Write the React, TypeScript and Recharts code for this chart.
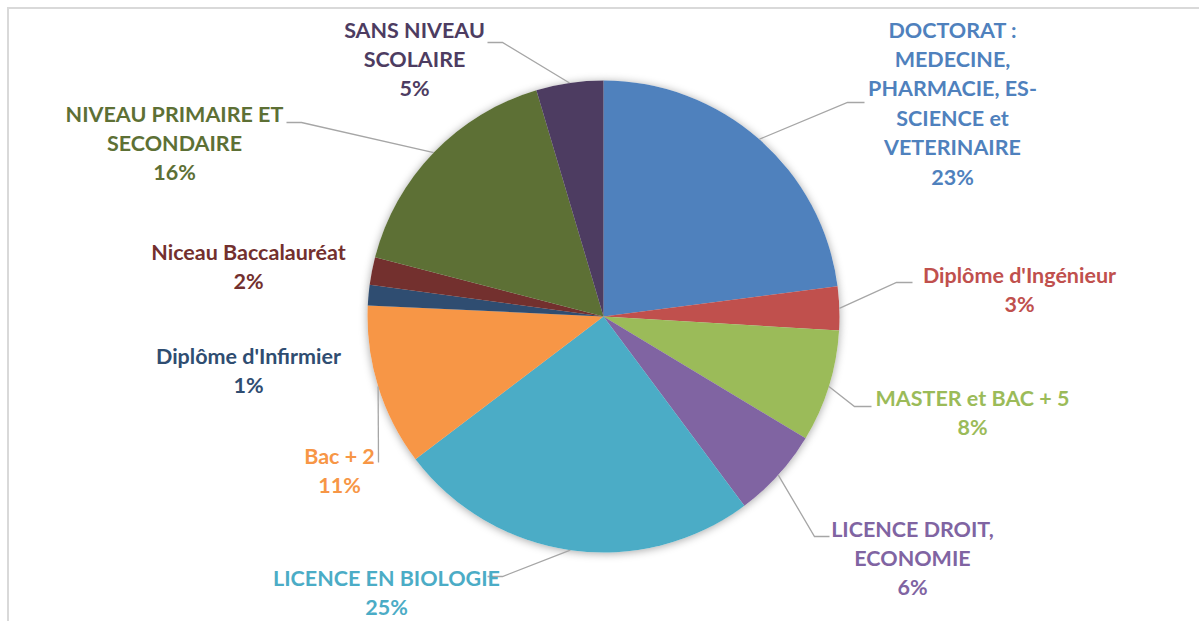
import React from "react";
import { PieChart, Pie, Cell } from "recharts";

// Categories (line breaks follow the wrapped labels in the reference)
const categories = [
  "DOCTORAT :\nMEDECINE,\nPHARMACIE, ES-\nSCIENCE et\nVETERINAIRE",
  "Diplôme d'Ingénieur",
  "MASTER et BAC + 5",
  "LICENCE DROIT,\nECONOMIE",
  "LICENCE EN BIOLOGIE",
  "Bac + 2",
  "Diplôme d'Infirmier",
  "Niceau Baccalauréat",
  "NIVEAU PRIMAIRE ET\nSECONDAIRE",
  "SANS NIVEAU\nSCOLAIRE",
];

// Share of each category
const shares = [23.0, 3.0, 7.7, 6.2, 24.9, 11.1, 1.4, 1.9, 16.4, 4.6];

const colors = [
  "#4F81BD",
  "#C0504D",
  "#9BBB59",
  "#8064A2",
  "#4BACC6",
  "#F79646",
  "#2F4D71",
  "#73302E",
  "#5D7035",
  "#4D3C61",
];

// Label placement, offsets from the pie centre (Excel moved these by hand)
type Layout = { elbow?: [number, number]; end?: [number, number]; text: [number, number] };
const labelLayout: Layout[] = [
  { elbow: [244, -214], end: [261, -214], text: [349, -287] },
  { elbow: [293, -34], end: [309, -34], text: [416, -42] },
  { elbow: [251, 90], end: [268, 90], text: [369, 81] },
  { elbow: [211, 220], end: [226, 220], text: [309, 212] },
  { elbow: [-101, 260], end: [-116, 260], text: [-217, 261] },
  { elbow: [-225, 146], end: [-225, 146], text: [-264, 139] },
  { text: [-355, 39] },
  { text: [-355, -65] },
  { elbow: [-302, -194], end: [-317, -194], text: [-429, -203] },
  { elbow: [-101, -274], end: [-116, -274], text: [-189, -287] },
];

const data = categories.map((name, i) => ({ name, value: shares[i] }));
const total = shares.reduce((a, b) => a + b, 0);

const RAD = Math.PI / 180;
const LINE_H = 29.4;

function renderLabel(props: any) {
  const { cx, cy, midAngle, outerRadius, index } = props;
  const layout = labelLayout[index];
  const color = colors[index];
  const lines = [...categories[index].split("\n"), `${Math.round((shares[index] / total) * 100)}%`];
  const sx = cx + outerRadius * Math.cos(-midAngle * RAD);
  const sy = cy + outerRadius * Math.sin(-midAngle * RAD);
  const tx = cx + layout.text[0];
  const ty = cy + layout.text[1];
  return (
    <g key={`label-${index}`}>
      {layout.elbow && layout.end && (
        <polyline
          points={`${sx},${sy} ${cx + layout.elbow[0]},${cy + layout.elbow[1]} ${cx + layout.end[0]},${cy + layout.end[1]}`}
          fill="none"
          stroke="#A6A6A6"
          strokeWidth={1.3}
        />
      )}
      {lines.map((line, i) => (
        <text
          key={i}
          x={tx}
          y={ty + i * LINE_H}
          textAnchor="middle"
          dominantBaseline="central"
          fill={color}
          fontFamily="Lato, sans-serif"
          fontWeight={700}
          fontSize={21.5}
        >
          {line}
        </text>
      ))}
    </g>
  );
}

export default function App() {
  return (
    <div style={{ position: "absolute", left: 0, top: 0, width: 1199, height: 621, background: "#fff" }}>
      {/* chart frame: only the top and left edges are inside the picture */}
      <div
        style={{
          position: "absolute",
          left: 7,
          top: 7,
          width: 1199,
          height: 621,
          borderLeft: "2px solid #D9D9D9",
          borderTop: "2px solid #D9D9D9",
        }}
      />
      <div style={{ position: "absolute", left: 0, top: 0 }}>
        <PieChart width={1199} height={621} margin={{ top: 0, right: 0, bottom: 0, left: 0 }}>
          {/* white copy underneath that carries the soft shadow */}
          <Pie
            data={data}
            dataKey="value"
            cx={603.5}
            cy={316.5}
            outerRadius={236}
            startAngle={90}
            endAngle={-270}
            stroke="none"
            isAnimationActive={false}
          >
            {data.map((_, i) => (
              <Cell key={`s-${i}`} fill="#fff" style={{ filter: "drop-shadow(0px 1px 4px rgba(0,0,0,0.35))" }} />
            ))}
          </Pie>
          <Pie
            data={data}
            dataKey="value"
            cx={603.5}
            cy={316.5}
            outerRadius={236}
            startAngle={90}
            endAngle={-270}
            stroke="none"
            label={renderLabel}
            labelLine={false}
            isAnimationActive={false}
          >
            {data.map((_, i) => (
              <Cell key={`c-${i}`} fill={colors[i]} />
            ))}
          </Pie>
        </PieChart>
      </div>
    </div>
  );
}
